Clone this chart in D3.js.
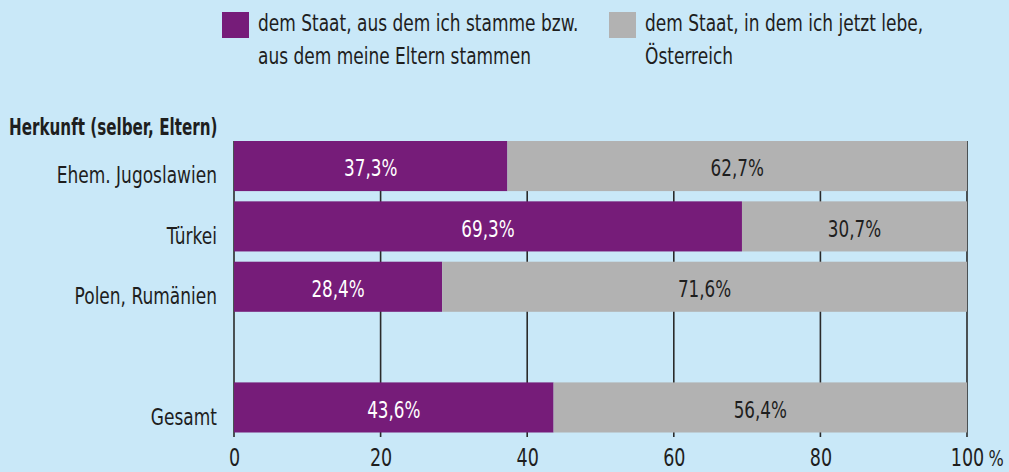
<!DOCTYPE html>
<html>
<head>
<meta charset="utf-8">
<script src="https://cdn.jsdelivr.net/npm/d3@7"></script>
<style>
  body { margin: 0; background: #c9e8f8; }
  svg { display: block; }
  text { font-family: "DejaVu Sans", sans-serif; fill: #1e1e1e; }
</style>
</head>
<body>
<div id="chart"></div>
<script>
// data
var categories = ["Ehem. Jugoslawien", "Türkei", "Polen, Rumänien", "Gesamt"];
var herkunftStaat = [37.3, 69.3, 28.4, 43.6];
var oesterreich = [62.7, 30.7, 71.6, 56.4];
var seriesNames = ["dem Staat, aus dem ich stamme bzw.|aus dem meine Eltern stammen", "dem Staat, in dem ich jetzt lebe,|Österreich"];
var xTicks = [0, 20, 40, 60, 80, 100];

var svgWidth = 1009;
var svgHeight = 472;
var colors = ["#761c79", "#b2b2b2"];
// the original uses a condensed font, so squeeze the text horizontally
var wordScale = 0.74;
var numScale = 0.73;

var svg = d3.select("#chart")
  .append("svg")
  .attr("width", svgWidth)
  .attr("height", svgHeight);

var x = d3.scaleLinear()
  .domain([0, 100])
  .range([234, 967]);

// empty slot between the countries and "Gesamt"
var rowKeys = categories.slice(0, 3).concat(["_gap"], categories.slice(3));
var y = d3.scaleBand()
  .domain(rowKeys)
  .range([141, 432.5])
  .paddingInner(0.17)
  .paddingOuter(0);

var rows = categories.map(function(c, i) {
  return { cat: c, a: herkunftStaat[i], b: oesterreich[i] };
});

function squeeze(px, py, sx) {
  return "translate(" + px + "," + py + ") scale(" + sx + ",1)";
}

// gridlines + ticks
svg.append("g")
  .selectAll("line")
  .data(xTicks)
  .enter()
  .append("line")
  .attr("x1", d => x(d))
  .attr("x2", d => x(d))
  .attr("y1", 141)
  .attr("y2", 437)
  .attr("stroke", "#2a2a2a")
  .attr("stroke-width", 1.6);

var barG = svg.append("g");

barG.selectAll(".segA")
  .data(rows)
  .enter()
  .append("rect")
  .attr("x", x(0))
  .attr("y", d => y(d.cat))
  .attr("width", d => x(d.a) - x(0))
  .attr("height", y.bandwidth())
  .attr("fill", colors[0]);

barG.selectAll(".segB")
  .data(rows)
  .enter()
  .append("rect")
  .attr("x", d => x(d.a))
  .attr("y", d => y(d.cat))
  .attr("width", d => x(100) - x(d.a))
  .attr("height", y.bandwidth())
  .attr("fill", colors[1]);

function fmt(v) { return v.toFixed(1).replace(".", ",") + "%"; }

barG.selectAll(".labA")
  .data(rows)
  .enter()
  .append("text")
  .attr("transform", d => squeeze(x(d.a / 2), y(d.cat) + y.bandwidth() / 2 + 2, numScale))
  .attr("dy", "0.36em")
  .attr("text-anchor", "middle")
  .style("font-size", "23px")
  .style("fill", "#ffffff")
  .text(d => fmt(d.a));

barG.selectAll(".labB")
  .data(rows)
  .enter()
  .append("text")
  .attr("transform", d => squeeze(x(d.a + d.b / 2), y(d.cat) + y.bandwidth() / 2 + 2, numScale))
  .attr("dy", "0.36em")
  .attr("text-anchor", "middle")
  .style("font-size", "23px")
  .text(d => fmt(d.b));

// category labels
svg.append("g")
  .selectAll("text")
  .data(categories)
  .enter()
  .append("text")
  .attr("transform", d => squeeze(217, y(d) + y.bandwidth() / 2 + 9, wordScale))
  .attr("dy", "0.36em")
  .attr("text-anchor", "end")
  .style("font-size", "23px")
  .text(d => d);

svg.append("text")
  .attr("transform", squeeze(9, 127, 0.66))
  .attr("dy", "0.36em")
  .style("font-size", "23px")
  .style("font-weight", "bold")
  .text("Herkunft (selber, Eltern)");

// x axis labels
var xAxis = d3.axisBottom(x)
  .tickValues(xTicks)
  .tickSize(0)
  .tickPadding(0);

var axisG = svg.append("g")
  .attr("transform", "translate(0, 449)")
  .call(xAxis);
axisG.select(".domain").remove();
axisG.selectAll("text")
  .attr("transform", "scale(" + numScale + ",1)")
  .style("font-size", "24px")
  .style("font-family", null)
  .attr("fill", null);

svg.append("text")
  .attr("transform", squeeze(996, 458, numScale))
  .attr("dy", "0.36em")
  .attr("text-anchor", "middle")
  .style("font-size", "22px")
  .text("%");

// legend
var legendX = [222, 609];
var legend = svg.append("g");
seriesNames.forEach(function(name, i) {
  legend.append("rect")
    .attr("x", legendX[i])
    .attr("y", 12)
    .attr("width", 27)
    .attr("height", 26)
    .attr("fill", colors[i]);
  name.split("|").forEach(function(line, j) {
    legend.append("text")
      .attr("transform", squeeze(legendX[i] + 36, 23 + j * 33, wordScale))
      .attr("dy", "0.36em")
      .style("font-size", "23px")
      .text(line);
  });
});
</script>
</body>
</html>
